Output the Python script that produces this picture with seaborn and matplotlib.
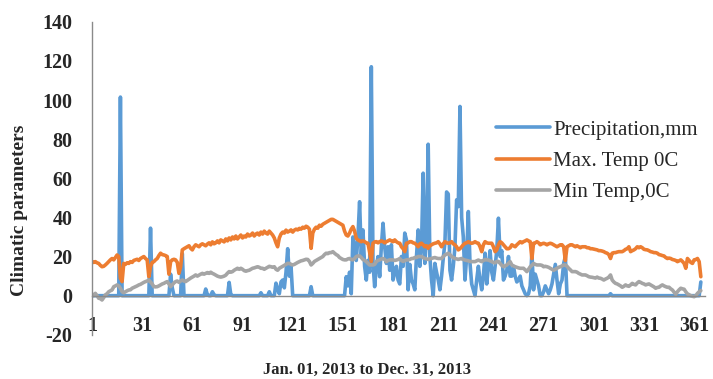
import matplotlib
matplotlib.use("Agg")
import matplotlib.pyplot as plt
import seaborn as sns
import pandas as pd
from matplotlib.ticker import FixedLocator

# Daily values (day 1 = Jan. 01, 2013)
days = list(range(1, 366))

precipitation = [
    0, 0, 0, 0, 0, 0, 0, 0, 0, 0,
    0, 0, 0, 0, 0, 0, 0, 101.5, 0, 0,
    0, 0, 0, 0, 0, 0, 0, 0, 0, 0,
    0, 0, 0, 0, 0, 34.5, 0, 0, 0, 0,
    0, 0, 0, 0, 0, 0, 0, 11, 4, 0,
    0, 0, 0, 0, 21.5, 0, 0, 0, 0, 0,
    0, 0, 0, 0, 0, 0, 0, 0, 3.4, 0.5,
    0, 0, 2, 0.5, 0, 0, 0, 0, 0, 0,
    0, 0, 6.8, 0.5, 0, 0, 0, 0, 0, 0,
    0, 0, 0, 0, 0, 0, 0, 0, 0, 0,
    0, 1.5, 0, 0, 0, 0, 2, 0, 0, 0,
    6.4, 3, 1, 7, 8, 4, 12, 24, 10, 15,
    0, 0, 0, 0, 0, 0, 0, 0, 0, 0,
    0, 4.6, 0, 0, 0, 0, 0, 0, 0, 0,
    0, 0, 0, 0, 0, 0, 0, 0, 0, 0,
    0, 0, 9.7, 5, 12, 1, 30, 26, 18, 30,
    48, 20, 33.6, 15, 8, 18, 12, 117, 16.5, 4.6,
    15, 20, 9.7, 25, 37, 25, 16.5, 25, 13, 26,
    8, 12, 15, 8, 6, 20, 15, 32, 28.5, 3,
    16, 8, 6, 3, 20, 33.6, 15, 25, 62.6, 16.5,
    30, 77.4, 20, 8, 0, 16.5, 12, 8, 3, 10,
    19, 27, 53, 52, 13, 8, 15, 25, 49, 45.5,
    96.7, 40, 30, 8, 20, 43, 16.5, 6, 3, 0,
    8, 15, 8, 3, 10, 21.7, 6, 15, 23, 12,
    8, 15, 23, 39.6, 20, 23, 8, 10, 13, 20,
    10, 10, 15, 10, 7, 8, 10, 5, 3, 1,
    0, 1, 5, 22, 3, 11, 8, 5, 0, 0,
    2, 5, 3, 1, 3, 6, 11, 16, 8, 1,
    6, 8, 16.5, 20, 0, 0, 0, 0, 0, 0,
    0, 0, 0, 0, 0, 0, 0, 0, 0, 0,
    0, 0, 0, 0, 0, 0, 0, 0, 0, 0,
    1, 0, 0, 0, 0, 0, 0, 0, 0, 0,
    0, 0, 0, 0, 0, 0, 0, 0, 0, 0,
    0, 0, 0, 0, 0, 0, 0, 0, 0, 0,
    0, 0, 0, 0, 0, 0, 0, 0, 0, 0,
    0, 0, 0, 0, 0, 0, 0, 0, 0, 0,
    0, 0, 0, 0, 7,
]

max_temp = [
    17.4, 17.0, 17.4, 16.8, 16.5, 15.5, 14.8, 15.0, 15.7, 16.5,
    17.4, 18.3, 19.0, 18.3, 19.5, 20.8, 20.0, 9.0, 7.2, 16.5,
    16.0, 16.8, 16.5, 17.4, 17.0, 18.0, 18.3, 18.6, 18.0, 19.0,
    19.5, 20.0, 19.0, 18.3, 9.7, 14.8, 17.0, 17.4, 18.3, 19.0,
    20.5, 21.7, 21.0, 20.8, 20.5, 20.0, 11.0, 17.4, 18.3, 18.6,
    18.3, 17.0, 11.4, 14.8, 23.4, 24.0, 24.5, 25.0, 25.5, 24.2,
    23.4, 25.0, 26.0, 25.5, 25.0, 26.0, 26.5, 26.0, 25.5, 26.4,
    27.0, 26.0, 27.5, 26.5, 27.0, 28.0, 27.0, 28.5, 28.0, 27.5,
    29.0, 28.0, 29.5, 28.5, 30.0, 29.0, 30.5, 29.0, 30.0, 31.0,
    29.5, 30.5, 30.0, 31.5, 30.5, 31.0, 32.0, 30.5, 31.5, 32.0,
    31.0, 32.5, 31.5, 33.0, 32.0, 31.5, 33.0, 32.0, 31.0, 29.5,
    27.0, 25.0, 29.5, 31.5, 32.5, 32.0, 33.5, 32.5, 33.0, 33.6,
    32.5, 33.5, 34.0, 33.6, 34.4, 34.0, 35.0, 34.5, 35.5, 35.0,
    34.0, 24.2, 32.0, 34.0, 35.0, 34.5, 36.0, 35.5, 36.5, 37.0,
    37.5, 38.0, 38.5, 39.0, 39.0, 38.5, 38.0, 37.5, 37.0, 36.5,
    36.0, 33.0, 31.0, 30.5, 32.0, 34.0, 35.3, 33.0, 29.3, 28.5,
    28.0, 27.6, 28.0, 27.6, 27.0, 26.8, 22.0, 17.5, 26.8, 27.5,
    27.6, 27.0, 27.6, 28.0, 27.6, 27.0, 27.6, 28.0, 28.5, 28.0,
    27.6, 28.5, 27.6, 27.0, 26.8, 25.0, 24.0, 22.5, 26.8, 27.0,
    27.6, 27.6, 27.0, 26.8, 26.0, 25.0, 26.5, 26.8, 26.0, 25.0,
    25.5, 24.2, 25.5, 26.0, 26.5, 26.8, 27.0, 27.6, 26.5, 25.0,
    26.5, 27.6, 27.0, 26.8, 27.0, 27.6, 26.5, 26.0, 25.0, 23.4,
    24.0, 25.0, 26.0, 26.8, 27.0, 27.6, 27.0, 26.8, 27.0, 27.6,
    27.0, 26.8, 25.0, 22.5, 26.0, 27.6, 27.0, 26.8, 26.8, 26.8,
    25.0, 22.5, 23.4, 26.0, 27.6, 27.0, 26.0, 25.0, 24.0, 24.0,
    24.5, 26.0, 25.5, 25.0, 26.0, 26.8, 27.6, 27.0, 27.6, 28.0,
    28.5, 28.0, 27.6, 19.0, 26.8, 27.0, 27.6, 27.0, 26.0, 26.5,
    26.8, 26.5, 26.0, 26.5, 26.8, 26.5, 26.0, 25.5, 25.0, 25.5,
    26.0, 26.0, 25.0, 18.0, 25.0, 25.5, 26.0, 26.0, 25.5, 25.0,
    25.5, 25.0, 24.5, 25.0, 25.0, 25.0, 24.5, 24.5, 24.0, 24.0,
    23.8, 23.6, 23.4, 23.0, 23.0, 22.8, 22.5, 22.0, 21.7, 21.0,
    19.0, 21.7, 22.0, 22.0, 22.3, 22.5, 22.5, 22.5, 23.0, 23.7,
    24.0, 25.0, 22.5, 23.0, 23.4, 24.0, 25.0, 24.5, 25.0, 24.5,
    23.7, 23.5, 23.4, 23.0, 22.5, 22.3, 22.0, 22.0, 21.7, 21.0,
    20.8, 20.5, 20.3, 19.5, 19.0, 19.2, 19.0, 18.5, 18.3, 18.0,
    17.4, 17.8, 18.3, 17.5, 16.5, 14.0, 19.0, 18.0, 17.0, 16.5,
    18.3, 18.5, 19.0, 17.4, 9.7,
]

min_temp = [
    0.9, 0.0, 1.2, 0.0, -1.3, -1.5, -2.2, -1.0, 0.4, 1.0,
    2.0, 2.5, 2.9, 4.6, 5.0, 5.5, 5.0, 3.8, 2.0, 1.5,
    2.0, 2.5, 2.9, 3.0, 3.8, 4.2, 4.6, 5.0, 5.5, 5.8,
    6.3, 6.8, 7.2, 7.5, 8.0, 7.0, 6.0, 4.6, 4.5, 4.6,
    5.0, 5.5, 6.0, 6.3, 6.8, 7.2, 6.0, 4.6, 5.5, 6.5,
    7.2, 7.5, 6.8, 7.5, 8.0, 7.5, 7.2, 7.8, 8.4, 9.0,
    9.5, 10.0, 10.6, 10.0, 10.5, 11.0, 11.4, 11.0, 11.4, 11.8,
    11.4, 12.0, 11.4, 11.0, 10.5, 10.0, 9.7, 9.5, 9.7, 10.0,
    10.5, 11.5, 12.3, 12.0, 12.3, 13.0, 13.5, 14.0, 13.5, 14.0,
    13.5, 12.8, 12.5, 12.8, 13.0, 13.5, 14.0, 14.2, 14.5, 14.8,
    14.5, 14.0, 14.0, 13.5, 14.0, 14.5, 15.0, 14.8, 14.5, 14.8,
    13.5, 13.0, 14.0, 14.5, 15.0, 15.5, 16.0, 16.5, 16.5, 16.0,
    15.7, 16.0, 16.5, 17.0, 17.4, 17.8, 18.0, 18.3, 18.6, 18.5,
    17.5, 15.7, 16.5, 17.5, 18.0, 18.5, 19.0, 19.5, 20.0, 21.0,
    21.7, 21.5, 22.0, 22.0, 22.5, 21.7, 21.0, 20.5, 19.5, 19.0,
    18.5, 18.3, 18.3, 18.8, 19.0, 18.5, 18.3, 19.0, 20.0, 20.3,
    20.3, 19.5, 18.5, 18.0, 17.4, 16.5, 15.7, 15.7, 15.7, 16.0,
    17.4, 18.0, 18.3, 18.8, 19.0, 18.5, 17.4, 18.0, 18.3, 18.3,
    18.3, 18.0, 18.2, 18.5, 19.0, 18.0, 17.5, 18.0, 18.3, 18.3,
    18.5, 19.0, 19.0, 19.5, 19.5, 20.0, 20.0, 20.0, 19.5, 19.0,
    18.8, 18.5, 18.8, 19.0, 19.3, 19.5, 19.2, 19.0, 19.0, 19.0,
    20.0, 20.8, 21.2, 21.7, 21.0, 20.0, 19.5, 19.0, 18.8, 18.5,
    18.8, 19.0, 18.5, 18.2, 18.0, 17.8, 17.5, 17.4, 17.4, 17.4,
    17.8, 18.2, 17.8, 17.4, 18.0, 18.5, 18.3, 18.2, 17.8, 17.4,
    17.0, 16.8, 17.5, 17.5, 16.5, 15.5, 14.8, 15.2, 15.7, 16.5,
    17.4, 15.7, 15.2, 14.8, 14.5, 14.2, 14.0, 14.0, 14.0, 13.2,
    12.3, 13.5, 14.8, 15.5, 16.5, 16.0, 15.7, 15.7, 15.7, 15.5,
    14.8, 15.0, 14.8, 14.5, 14.0, 13.5, 13.0, 13.5, 14.0, 14.5,
    14.8, 15.2, 15.7, 15.7, 15.0, 14.0, 13.2, 12.3, 12.3, 12.3,
    12.0, 11.4, 11.0, 10.6, 10.6, 10.6, 10.2, 9.7, 9.5, 9.4,
    9.2, 9.0, 9.5, 9.0, 8.9, 8.5, 8.0, 8.5, 8.9, 9.5,
    10.6, 8.0, 7.0, 6.3, 6.0, 5.5, 5.0, 4.3, 4.8, 5.5,
    5.0, 4.8, 5.5, 6.3, 5.8, 5.5, 6.5, 7.2, 6.8, 6.3,
    6.0, 5.5, 5.8, 6.0, 5.5, 5.0, 4.5, 3.8, 4.2, 4.3,
    5.0, 5.5, 5.0, 4.6, 4.3, 4.3, 3.5, 2.9, 1.8, 0.7,
    2.0, 3.0, 3.8, 3.5, 3.3, 2.0, 0.9, 0.5, 0.0, -0.3,
    -0.5, 0.0, 1.2, 2.0, 2.6,
]

series_names = ["Precipitation,mm", "Max. Temp 0C", "Min Temp,0C"]
series_colors = ["#5B9BD5", "#ED7D31", "#A5A5A5"]
x_labels_at = list(range(1, 366, 30))
x_ticks_at = list(range(1, 366, 10))
y_ticks_at = list(range(-20, 141, 20))

# long format for seaborn
df = pd.DataFrame({
    "Day": days * 3,
    "Value": precipitation + max_temp + min_temp,
    "Series": [series_names[0]] * 365 + [series_names[1]] * 365 + [series_names[2]] * 365,
})

sns.set_style("white")
plt.rcParams["font.family"] = ["Liberation Serif", "DejaVu Serif"]
plt.rcParams["axes.unicode_minus"] = False

fig = plt.figure(figsize=(7.13, 3.79), dpi=100)
ax = fig.add_axes([0.129, 0.1166, 0.8598, 0.826])

sns.lineplot(data=df, x="Day", y="Value", hue="Series", hue_order=series_names,
             palette=series_colors, linewidth=2.6, ax=ax, legend=True)

axis_grey = "#8a8a8a"
ax.set_xlim(1, 367.5)
ax.set_ylim(-20, 140)
for side in ["top", "right"]:
    ax.spines[side].set_visible(False)
for side in ["left", "bottom"]:
    ax.spines[side].set_color(axis_grey)
    ax.spines[side].set_linewidth(1)
ax.spines["bottom"].set_position(("data", 0))

ax.xaxis.set_major_locator(FixedLocator(x_labels_at))
ax.xaxis.set_minor_locator(FixedLocator(x_ticks_at))
ax.yaxis.set_major_locator(FixedLocator(y_ticks_at))
ax.tick_params(axis="x", which="both", direction="out", length=4.3, color=axis_grey, width=1)
ax.tick_params(axis="x", which="major", pad=10, labelsize=14.5)
ax.tick_params(axis="y", direction="out", length=5, color=axis_grey, width=1, pad=9, labelsize=14.5)
for lab in ax.get_xticklabels() + ax.get_yticklabels():
    lab.set_fontweight("bold")

ax.set_xlabel("")
ax.set_ylabel("")
fig.text(20 / 713, 1 - 210 / 379, "Climatic parameters", rotation=90, ha="center", va="center",
         fontsize=14, fontweight="bold")
fig.text(367 / 713, 1 - 370 / 379, "Jan. 01, 2013 to Dec. 31, 2013", ha="center", va="center",
         fontsize=12, fontweight="bold")

handles, labels = ax.get_legend_handles_labels()
ax.legend(handles, labels, loc="center left", bbox_to_anchor=(496 / 713, 1 - 161 / 379),
          bbox_transform=fig.transFigure, frameon=False, fontsize=15, handlelength=2.6,
          handletextpad=0.15, labelspacing=0.55, borderpad=0, borderaxespad=0)

fig.savefig("out.png", dpi=100)
